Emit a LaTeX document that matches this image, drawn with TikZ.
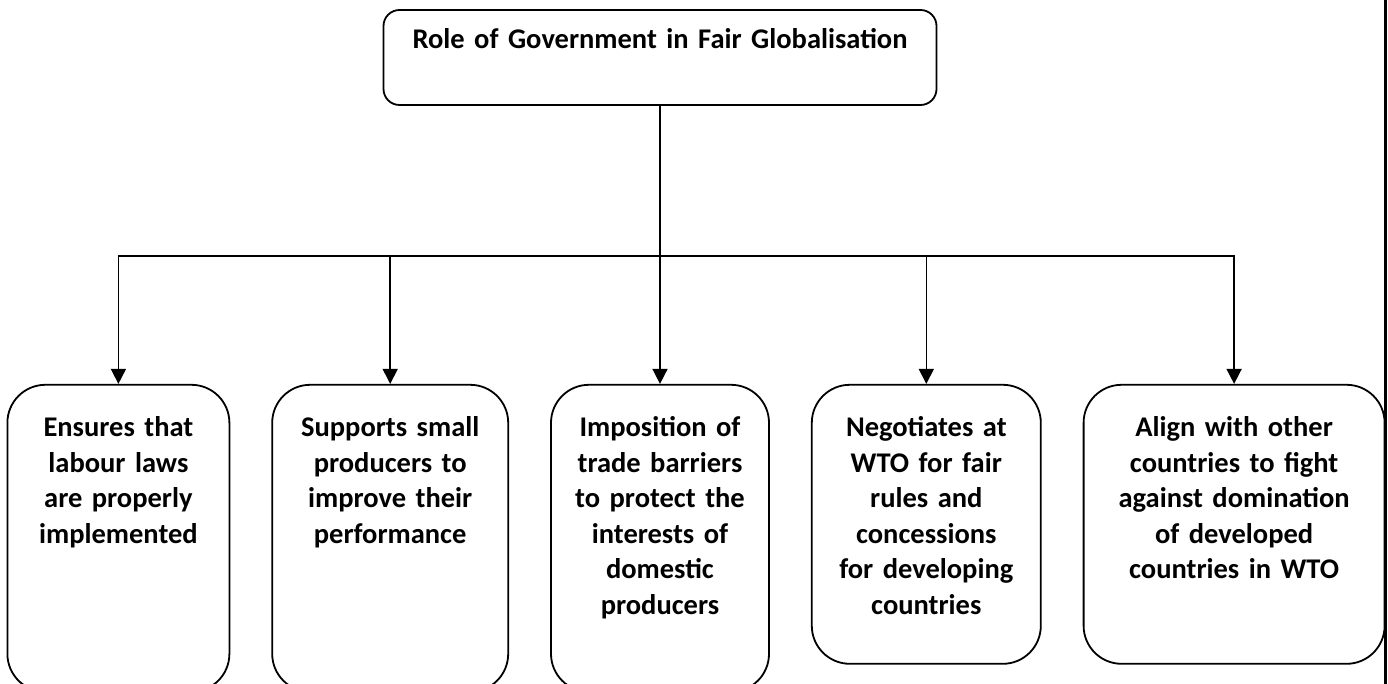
\documentclass[tikz,border=0pt]{standalone}
\usepackage{fontspec}
\setmainfont{Carlito}
\usetikzlibrary{arrows.meta, positioning}

\begin{document}
\begin{tikzpicture}[
  x=1pt, y=-1pt,
  font=\bfseries\fontsize{28.5}{35.5}\selectfont,
  node distance=41pt,
  root/.style ={rectangle, rounded corners=16pt, draw, line width=1.8pt,
                text width=553pt, align=center, inner sep=0pt,
                text height=39pt, text depth=56pt},
  leaf/.style ={rectangle, rounded corners=38pt, draw, line width=1.8pt,
                align=center, inner sep=0pt, text height=52pt},
  tall/.style ={leaf, text depth=255pt},
  short/.style={leaf, text depth=227pt},
  stem/.style ={line width=1.6pt},
  flow/.style ={-{Triangle[length=15pt, width=15pt]}, line width=1.6pt},
]
\useasboundingbox (0,0) rectangle (1388,684);

% ---- title ----
\node[root] (root) at (660,57.5) {Role of Government in Fair Globalisation};

% ---- five roles, left to right ----
\node[tall, text width=218pt, below=278pt of root] (b3)
  {Imposition of\\trade barriers\\to protect the\\interests of\\domestic\\producers};
\node[tall, text width=236pt, left=of b3.north west, anchor=north east] (b2)
  {Supports small\\producers to\\improve their\\performance};
\node[tall, text width=222pt, left=of b2.north west, anchor=north east] (b1)
  {Ensures that\\labour laws\\are properly\\implemented};
\node[short, text width=229pt, right=of b3.north east, anchor=north west] (b4)
  {Negotiates at\\WTO for fair\\rules and\\concessions\\for developing\\countries};
\node[short, text width=301pt, right=of b4.north east, anchor=north west] (b5)
  {Align with other\\countries to fight\\against domination\\of developed\\countries in WTO};

% ---- branching ----
\coordinate[below=150pt of root] (bus);
\draw[stem] (root.south) -- (bus);
\draw[flow] (bus) -| (b1.north);
\draw[flow] (bus) -| (b2.north);
\draw[flow] (bus) -- (b3.north);
\draw[flow] (bus) -| (b4.north);
\draw[flow] (bus) -| (b5.north);

% page rule on the right
\draw[line width=3pt] (1385,0) -- (1385,684);

\end{tikzpicture}
\end{document}
